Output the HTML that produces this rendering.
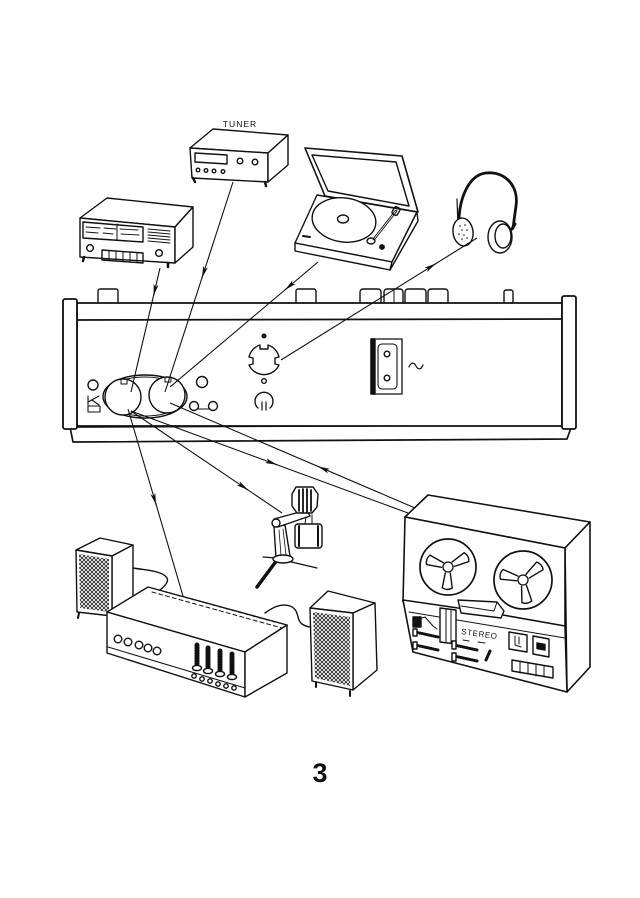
<!DOCTYPE html>
<html><head><meta charset="utf-8"><style>
html,body{margin:0;padding:0;background:#fff;}
svg{display:block;}
</style></head><body>
<svg width="640" height="898" viewBox="0 0 640 898" xmlns="http://www.w3.org/2000/svg" font-family="Liberation Sans, sans-serif">
<defs>
<pattern id="hatch" width="4" height="4" patternUnits="userSpaceOnUse">
<path d="M0,0 L4,4 M4,0 L0,4" stroke="#222" stroke-width="0.8"/>
</pattern>
<marker id="ah" viewBox="0 0 12 5" refX="12" refY="2.5" markerWidth="12" markerHeight="5" markerUnits="userSpaceOnUse" orient="auto">
<path d="M0,0 L12,2.5 L0,5 L3,2.5 z" fill="#111"/>
</marker>
</defs>
<rect width="640" height="898" fill="#fff"/>
<g fill="none" stroke="#111" stroke-width="1.4" stroke-linejoin="round" stroke-linecap="round">

<!-- TUNER -->
<text x="240" y="127" font-size="8.5" letter-spacing="1" text-anchor="middle" fill="#111" stroke="none">TUNER</text>
<polygon points="190,148 213,129 288,135 268,153" fill="#fff"/>
<polygon points="190,148 268,153 268,182 192,178" fill="#fff"/>
<polygon points="268,153 288,135 288,165 268,182" fill="#fff"/>
<polygon points="195,153 227,155 227,164 195,162"/>
<circle cx="240" cy="161" r="2.8"/><circle cx="255" cy="162" r="2.8"/>
<circle cx="198" cy="170" r="1.8"/><circle cx="206" cy="170.5" r="1.8"/><circle cx="214" cy="171" r="1.8"/><circle cx="223" cy="171.5" r="1.8"/>
<path d="M193,178 L195,182 M265,182 L266,186" stroke-width="2.5"/>

<!-- RADIO -->
<polygon points="80,218 107,198 193,207 175,227" fill="#fff"/>
<polygon points="80,218 175,227 175,263 80,257" fill="#fff"/>
<polygon points="175,227 193,207 193,247 175,263" fill="#fff"/>
<polygon points="83,222 143,227 143,242 83,238"/>
<path d="M86,227 L100,228 M104,228 L116,229 M120,229 L138,230 M86,232 L98,233 M103,233 L113,234 M121,234 L139,235" stroke-width="0.9"/>
<path d="M117,224 L117,240" stroke-width="1"/>
<path d="M148,229 L170,231 M148,232 L170,234 M148,235 L170,237 M148,238 L170,240 M148,241 L170,243" stroke-width="1"/>
<circle cx="90" cy="248" r="3.3"/><circle cx="159" cy="253" r="3.3"/>
<polygon points="102,250 143,253 143,263 102,260"/>
<path d="M109,250.5 L109,260.5 M116,251 L116,261 M123,251.5 L123,261.5 M130,252 L130,262 M137,252.5 L137,262.5" stroke-width="1"/>
<path d="M84,257 L83,261 M168,263 L168,267" stroke-width="2.5"/>

<!-- TURNTABLE -->
<polygon points="305,148 402,156 418,212 325,196" fill="#fff" stroke-width="1.6"/>
<polygon points="312,155 396,162 409,206 328,191"/>
<polygon points="317,195 417,212 392,262 295,243" fill="#fff"/>
<polygon points="295,243 392,262 390,270 295,251" fill="#fff"/>
<polygon points="392,262 417,212 418,221 390,270" fill="#fff"/>
<ellipse cx="344" cy="220" rx="32" ry="22" transform="rotate(8 344 220)" fill="#fff"/>
<ellipse cx="343" cy="219" rx="5.5" ry="4"/>
<path d="M396,211 L374,239" stroke-width="2.6"/>
<path d="M396,211 L374,239" stroke="#fff" stroke-width="0.8"/>
<rect x="393" y="207" width="6" height="8" rx="1.5" transform="rotate(30 396 211)"/>
<ellipse cx="371" cy="241" rx="4" ry="3"/>
<circle cx="382" cy="247" r="2.2" fill="#111"/>
<path d="M303,236 L310,237" stroke-width="2"/>

<!-- HEADPHONES -->
<path d="M459,222 C459,200 468,175 486,173 C505,171 519,186 516,206 L513,228" stroke-width="2.8"/>
<path d="M457,199 L458,226" stroke-width="1.2"/>
<ellipse cx="463" cy="232" rx="10" ry="14" transform="rotate(-8 463 232)" fill="#fff"/>
<g fill="#111" stroke="none">
<circle cx="460" cy="226" r="0.8"/><circle cx="465" cy="225" r="0.8"/><circle cx="462" cy="230" r="0.8"/><circle cx="467" cy="230" r="0.8"/><circle cx="459" cy="234" r="0.8"/><circle cx="464" cy="235" r="0.8"/><circle cx="462" cy="239" r="0.8"/><circle cx="467" cy="238" r="0.8"/>
</g>
<ellipse cx="500" cy="237" rx="12" ry="16" fill="#fff"/>
<ellipse cx="503" cy="236" rx="8" ry="12"/>
<path d="M512,229 L515,224" stroke-width="3"/>

<!-- MAIN UNIT -->
<rect x="98" y="289" width="20" height="16" rx="2" fill="#fff"/>
<rect x="296" y="289" width="20" height="16" rx="2" fill="#fff"/>
<rect x="360" y="289" width="21" height="16" rx="3" fill="#fff"/>
<rect x="384" y="289" width="19" height="16" rx="3" fill="#fff"/>
<path d="M394,289 L394,305" stroke-width="1"/>
<rect x="405" y="289" width="21" height="16" rx="3" fill="#fff"/>
<rect x="428" y="289" width="20" height="16" rx="3" fill="#fff"/>
<rect x="504" y="290" width="9" height="14" rx="2" fill="#fff"/>
<polygon points="70,427 572,425 567,439 73,442" fill="#fff" stroke-width="1.7"/>
<rect x="77" y="303" width="485" height="123" fill="#fff" stroke-width="1.7"/>
<path d="M77,320 L562,319" stroke-width="1.7"/>
<rect x="63" y="299" width="14" height="130" rx="2" fill="#fff" stroke-width="1.8"/>
<rect x="562" y="296" width="14" height="133" rx="2" fill="#fff" stroke-width="1.8"/>
<!-- DIN sockets -->
<ellipse cx="145" cy="396.5" rx="42" ry="21.5" stroke-width="1.4"/>
<ellipse cx="145" cy="396.5" rx="40" ry="19.5" stroke-width="1"/>
<circle cx="123" cy="397" r="18" fill="#fff"/>
<circle cx="167" cy="395" r="18" fill="#fff"/>
<path d="M121,379 L121,384 L127,384 L127,379" stroke-width="1"/>
<path d="M165,377 L165,382 L171,382 L171,377" stroke-width="1"/>
<circle cx="93" cy="385" r="5"/>
<path d="M88,396 L88,405 M88,402 L99,396 M92,400 L99,405" stroke-width="1.1"/>
<rect x="88" y="406" width="12" height="6" stroke-width="1.1"/>
<circle cx="202" cy="382" r="5.5"/>
<circle cx="194" cy="406" r="4.5"/><circle cx="213" cy="406" r="4.5"/>
<path d="M198,409 L209,409" stroke-width="1"/>
<!-- center socket with side notches -->
<circle cx="264" cy="336" r="1.8" fill="#111"/>
<path d="M249,357 A16.5,16.5 0 0 1 260,345 L260,349 L268,349 L268,345 A16.5,16.5 0 0 1 279,357 L275,358 L275,364 L279,365 A16.5,16.5 0 0 1 249,365 L253,364 L253,358 Z" fill="#fff"/>
<circle cx="264" cy="381" r="2.3"/>
<path d="M258,408 A9,9 0 1 1 270,408" stroke-width="1.4"/>
<path d="M262,402 L262,410 M266,402 L266,410" stroke-width="1.2"/>
<!-- mains socket -->
<rect x="371" y="339" width="31" height="55" fill="#fff" stroke-width="1.3"/>
<rect x="371" y="339" width="4" height="55" fill="#111"/>
<rect x="378" y="344" width="19" height="45" rx="4" stroke-width="1.1"/>
<circle cx="387" cy="354" r="2.8"/><circle cx="387" cy="378" r="2.8"/>
<path d="M409,367 C411,362 414,362 416,366 C418,370 421,370 423,365" stroke-width="1.2"/>

<!-- LEFT SPEAKER -->
<polygon points="76,550 100,538 133,545 112,556" fill="#fff"/>
<polygon points="112,556 133,545 133,605 112,616" fill="#fff"/>
<polygon points="76,550 112,556 112,616 77,612" fill="#fff"/>
<polygon points="79,554 109,559 109,612 80,608" fill="url(#hatch)" stroke="none"/>
<path d="M79,613 L78,618" stroke-width="2"/>

<!-- cables -->
<path d="M133,568 C145,570 152,570 160,573 C170,577 170,582 160,590" stroke-width="1.4"/>
<path d="M265,613 C272,608 280,603 290,606 C300,610 296,620 302,624 C305,626 308,627 311,627" stroke-width="1.4"/>

<!-- AMP -->
<polygon points="107,612 148,587 287,625 245,652" fill="#fff"/>
<polygon points="107,612 245,652 245,697 107,653" fill="#fff"/>
<polygon points="245,652 287,625 287,673 245,697" fill="#fff"/>
<path d="M152,592 L282,628" stroke-width="1" stroke-dasharray="4 3"/>
<path d="M158,590 L278,623" stroke-width="0.8" stroke-dasharray="2 5"/>
<path d="M108,647 L245,688" stroke-width="1"/>
<circle cx="118" cy="639" r="3.8"/><circle cx="128" cy="642" r="3.8"/><circle cx="139" cy="645" r="3.8"/><circle cx="148" cy="648" r="3.8"/><circle cx="157" cy="651" r="3.8"/>
<g stroke-width="1">
<path d="M197,644 L197,668 M208,647 L208,671 M220,650 L220,674 M232,653 L232,677"/>
<path d="M197,645 L197,666 M208,648 L208,669 M220,651 L220,672 M232,654 L232,675" stroke-width="5" stroke-dasharray="0.8 1.8"/>
</g>
<ellipse cx="197" cy="668" rx="4.5" ry="2.6" fill="#fff"/><ellipse cx="208" cy="671" rx="4.5" ry="2.6" fill="#fff"/><ellipse cx="220" cy="674" rx="4.5" ry="2.6" fill="#fff"/><ellipse cx="232" cy="677" rx="4.5" ry="2.6" fill="#fff"/>
<circle cx="194" cy="676" r="2.2"/><circle cx="202" cy="679" r="2.2"/><circle cx="210" cy="681" r="2.2"/><circle cx="218" cy="684" r="2.2"/><circle cx="226" cy="686" r="2.2"/><circle cx="234" cy="688" r="2.2"/>

<!-- RIGHT SPEAKER -->
<polygon points="310,608 328,591 375,603 353,613" fill="#fff"/>
<polygon points="353,613 375,603 377,670 353,690" fill="#fff"/>
<polygon points="310,608 353,613 353,690 312,681" fill="#fff"/>
<polygon points="313,612 350,617 350,686 315,678" fill="url(#hatch)" stroke="none"/>
<path d="M316,682 L316,687 M350,691 L350,696" stroke-width="2"/>

<!-- MICROPHONE -->
<path d="M277,560 L257,587" stroke-width="3.5"/>
<path d="M283,560 L317,568 M276,558 L263,557" stroke-width="1.2"/>
<polygon points="274,527 285,525 290,556 276,558" fill="#fff"/>
<path d="M279,530 L281,555 M283,529 L286,555" stroke-width="0.8"/>
<ellipse cx="283" cy="559" rx="10" ry="4" fill="#fff"/>
<polygon points="274,519 307,510 310,516 278,527" fill="#fff"/>
<ellipse cx="276" cy="523" rx="4" ry="4" fill="#fff"/>
<polygon points="296,487 313,487 318,494 317,507 312,513 297,513 292,506 292,494" fill="#fff"/>
<path d="M299,490 L299,511 M303,489 L303,512 M307,489 L307,512 M311,490 L311,511" stroke-width="1.8"/>
<rect x="295" y="524" width="27" height="24" rx="3" fill="#fff"/>
<path d="M299,526 L299,546 M318,526 L318,546" stroke-width="2"/>
<path d="M306,517 L305,524 M312,515 L312,524" stroke-width="1"/>

<!-- TAPE RECORDER -->
<polygon points="405,517 428,495 590,522 565,548" fill="#fff" stroke-width="1.6"/>
<polygon points="565,548 590,522 590,667 567,692" fill="#fff" stroke-width="1.6"/>
<polygon points="405,517 565,548 565,630 403,602" fill="#fff" stroke-width="1.6"/>
<!-- reels -->
<g>
<circle cx="448" cy="567" r="28" fill="#fff" stroke-width="1.7"/>
<circle cx="448" cy="567" r="5" stroke-width="1.3"/>
<g transform="translate(448 567)">
<path d="M6,-2.5 L21,-5 Q24,0 21,5 L6,2.5" transform="rotate(-28)"/>
<path d="M6,-2.5 L21,-5 Q24,0 21,5 L6,2.5" transform="rotate(92)"/>
<path d="M6,-2.5 L21,-5 Q24,0 21,5 L6,2.5" transform="rotate(200)"/>
</g>
<circle cx="523" cy="580" r="29" fill="#fff" stroke-width="1.7"/>
<circle cx="523" cy="580" r="5" stroke-width="1.3"/>
<g transform="translate(523 580)">
<path d="M6,-2.5 L22,-5 Q25,0 22,5 L6,2.5" transform="rotate(-40)"/>
<path d="M6,-2.5 L22,-5 Q25,0 22,5 L6,2.5" transform="rotate(80)"/>
<path d="M6,-2.5 L22,-5 Q25,0 22,5 L6,2.5" transform="rotate(195)"/>
</g>
</g>
<!-- lower panel -->
<polygon points="403,600 458,608 503,615 565,626 567,692 413,652" fill="#fff" stroke-width="1.6"/>
<path d="M409,612 L565,638" stroke-width="1"/>
<polygon points="458,600 497,602 504,611 501,618 461,613" fill="#fff"/>
<path d="M497,602 L494,611 L461,606" stroke-width="1"/>
<polygon points="440,608 456,610 456,644 440,642" fill="#fff"/>
<path d="M446,609 L446,643 M451,610 L451,643" stroke-width="1"/>
<path d="M414,626 L418,619 L425,617 L433,626 L437,629" stroke-width="1"/>
<rect x="413" y="617" width="8" height="10" fill="#111"/>
<path d="M415,632 L438,637 M415,645 L438,650" stroke-width="3" stroke-dasharray="0.8 1.5"/>
<path d="M415,632 L438,637 M415,645 L438,650" stroke-width="1"/>
<rect x="413" y="629" width="4" height="7" fill="#fff"/><rect x="413" y="642" width="4" height="7" fill="#fff"/>
<path d="M454,645 L477,650 M454,656 L477,661" stroke-width="3" stroke-dasharray="0.8 1.5"/>
<path d="M454,645 L477,650 M454,656 L477,661" stroke-width="1"/>
<rect x="452" y="641" width="4" height="8" fill="#fff"/><rect x="452" y="653" width="4" height="8" fill="#fff"/>
<path d="M490,651 L486,660" stroke-width="3"/>
<text x="461" y="634" font-size="8" letter-spacing="0.6" fill="#111" stroke="none" transform="rotate(8 461 634)">STEREO</text>
<path d="M463,640 L469,641 M478,642 L485,643" stroke-width="1"/>
<polygon points="509,632 527,635 527,652 509,649" fill="#fff"/>
<path d="M515,636 L515,645 L521,647 M519,637 L519,644" stroke-width="1"/>
<polygon points="533,636 549,639 549,657 533,654" fill="#fff"/>
<polygon points="537,643 545,644.5 545,650 537,648.5" fill="#111"/>
<polygon points="512,660 553,667 553,678 512,671" fill="#fff"/>
<path d="M520,661 L520,673 M528,663 L528,674 M536,664 L536,676 M544,666 L544,677" stroke-width="1"/>
</g>

<!-- CONNECTOR LINES -->
<g stroke="#111" stroke-width="1.1" fill="none">
<path d="M160,268 L131,392"/>
<path d="M233,182 L165,392"/>
<path d="M318,262 L170,387"/>
<path d="M477,238 L281,360"/>
<path d="M128,409 L183,596"/>
<path d="M131,411 L282,513"/>
<path d="M131,411 L408,513"/>
<path d="M170,403 L415,508"/>
<path d="M155.3,288.2 L153.5,296" marker-end="url(#ah)"/>
<path d="M204.4,270.4 L201.9,278" marker-end="url(#ah)"/>
<path d="M291.1,284.7 L285,289.9" marker-end="url(#ah)"/>
<path d="M429.2,267.7 L436,263.5" marker-end="url(#ah)"/>
<path d="M153.9,497.3 L156.2,505" marker-end="url(#ah)"/>
<path d="M241.4,485.5 L248,490" marker-end="url(#ah)"/>
<path d="M269.5,462 L277,464.8" marker-end="url(#ah)"/>
<path d="M325.4,469.6 L318,466.4" marker-end="url(#ah)"/>
</g>

<text x="320" y="782" font-size="27" font-weight="bold" text-anchor="middle" fill="#111">3</text>
</svg>
</body></html>
